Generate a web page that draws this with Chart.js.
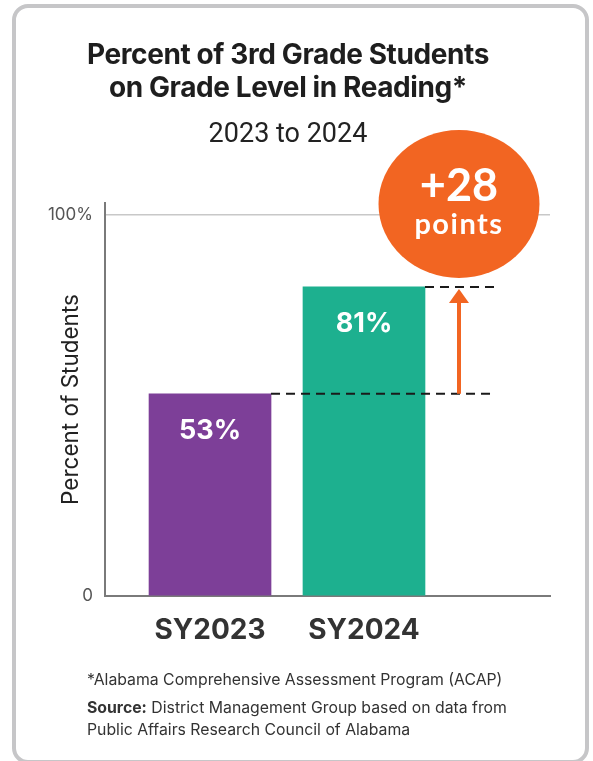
<!DOCTYPE html>
<html>
<head>
<meta charset="utf-8">
<title>Percent of 3rd Grade Students on Grade Level in Reading</title>
<script src="https://cdn.jsdelivr.net/npm/chart.js@4.4.0/dist/chart.umd.min.js"></script>
<style>
  html, body { margin: 0; padding: 0; background: #fff; }
  body { width: 593px; height: 761px; position: relative; overflow: hidden; font-family: Inter, sans-serif; color: #222; }
  .card { position: absolute; left: 12px; top: 4px; width: 577px; height: 760px; box-sizing: border-box;
          border: 4px solid #c6c6c8; border-radius: 16px; background: #fff; }
  #chart { position: absolute; left: 0; top: 0; }
  .title { position: absolute; left: 0; width: 576px; text-align: center; font-family: Inter, sans-serif;
           font-weight: 700; font-size: 28px; line-height: 33px; color: #1e1e1e; letter-spacing: -0.4px; }
  .subtitle { position: absolute; left: 0; width: 576px; text-align: center; font-family: Roboto, sans-serif;
              font-weight: 400; font-size: 27px; line-height: 33px; color: #222; }
  .note { position: absolute; left: 87px; font-family: Inter, sans-serif; font-size: 15.8px; line-height: 22px; color: #333; }
  .note b { font-weight: 700; }
</style>
</head>
<body>
<div class="card"></div>
<canvas id="chart" width="593" height="761"></canvas>
<div class="title" style="top:38px">Percent of 3rd Grade Students<br>on Grade Level in Reading*</div>
<div class="subtitle" style="top:117px">2023 to 2024</div>
<div class="note" style="top:669px">*Alabama Comprehensive Assessment Program (ACAP)</div>
<div class="note" style="top:697px"><b>Source:</b> District Management Group based on data from<br>Public Affairs Research Council of Alabama</div>

<script>
// chart data
const categories = ['SY2023', 'SY2024'];
const percentOnGrade = [53, 81];
const barColors = ['#7d3f98', '#1db08f'];
const yTicks = [0, 100];
const yTickLabels = ['0', '100%'];

const ORANGE = '#f26522';

/** labels inside bars, dashed guides, arrow and the "+N points" badge */
const annotations = {
  id: 'annotations',
  afterDatasetsDraw(chart) {
    const { ctx, chartArea, scales: { y } } = chart;
    const bars = chart.getDatasetMeta(0).data;
    ctx.save();

    // value labels
    ctx.fillStyle = '#fff';
    ctx.font = 'bold 27px Inter';
    ctx.textAlign = 'center';
    ctx.textBaseline = 'middle';
    bars.forEach((bar, i) => {
      ctx.fillText(percentOnGrade[i] + '%', bar.x, bar.y + 37);
    });

    const first = bars[0], last = bars[bars.length - 1];
    const arrowX = last.x + last.width / 2 + 34;
    const guideEnd = arrowX + 36;
    const yLow = y.getPixelForValue(percentOnGrade[0]);
    const yHigh = y.getPixelForValue(percentOnGrade[percentOnGrade.length - 1]);

    // dashed guides
    ctx.strokeStyle = '#1a1a1a';
    ctx.lineWidth = 2;
    ctx.setLineDash([9, 6]);
    ctx.beginPath();
    ctx.moveTo(first.x + first.width / 2, yLow);
    ctx.lineTo(guideEnd, yLow);
    ctx.moveTo(last.x + last.width / 2, yHigh);
    ctx.lineTo(guideEnd, yHigh);
    ctx.stroke();
    ctx.setLineDash([]);

    // arrow
    ctx.strokeStyle = ORANGE;
    ctx.fillStyle = ORANGE;
    ctx.lineWidth = 4;
    ctx.beginPath();
    ctx.moveTo(arrowX, yLow);
    ctx.lineTo(arrowX, yHigh + 14);
    ctx.stroke();
    ctx.beginPath();
    ctx.moveTo(arrowX, yHigh + 2);
    ctx.lineTo(arrowX - 10, yHigh + 16);
    ctx.lineTo(arrowX + 10, yHigh + 16);
    ctx.closePath();
    ctx.fill();

    // badge
    const cy = chartArea.top + 1;
    ctx.beginPath();
    ctx.ellipse(arrowX, cy, 80.5, 74, 0, 0, Math.PI * 2);
    ctx.fill();
    const diff = percentOnGrade[percentOnGrade.length - 1] - percentOnGrade[0];
    ctx.fillStyle = '#fff';
    ctx.font = 'bold 45px Lato';
    ctx.fillText('+' + diff, arrowX, cy - 18);
    ctx.font = 'bold 29px Lato';
    ctx.letterSpacing = '1.5px';
    ctx.fillText('points', arrowX, cy + 21);

    ctx.restore();
  }
};

function drawChart() {
  new Chart(document.getElementById('chart'), {
    type: 'bar',
    data: {
      datasets: [{
        data: categories.map((c, i) => ({ x: i + 1, y: percentOnGrade[i] })),
        backgroundColor: barColors,
        barThickness: 122,
        borderWidth: 0
      }]
    },
    options: {
      responsive: false,
      animation: false,
      events: [],
      layout: { padding: { left: 45, right: 43, top: 203, bottom: 116 } },
      plugins: { legend: { display: false }, tooltip: { enabled: false } },
      scales: {
        x: {
          type: 'linear',
          min: 0.318,
          max: 3.208,
          offset: false,
          grid: { display: false },
          border: { display: true, color: '#7a7a7a', width: 2 },
          afterBuildTicks: s => { s.ticks = categories.map((c, i) => ({ value: i + 1 })); },
          afterFit: s => { s.height = 49; },
          ticks: {
            maxRotation: 0,
            autoSkip: false,
            padding: 10,
            color: '#333',
            font: { family: 'Inter', size: 28, weight: 'bold' },
            callback: v => categories[v - 1] ?? ''
          }
        },
        y: {
          min: 0,
          max: 103,
          afterBuildTicks: s => { s.ticks = yTicks.map(v => ({ value: v })); },
          afterFit: s => { s.width = 60; },
          grid: {
            drawTicks: false,
            lineWidth: 1.5,
            color: c => (c.tick && c.tick.value === 100 ? '#c8c8c8' : 'rgba(0,0,0,0)')
          },
          border: { display: true, color: '#7a7a7a', width: 2 },
          ticks: {
            padding: 12,
            color: '#555',
            font: { family: 'Inter', size: 17 },
            callback: v => yTickLabels[yTicks.indexOf(v)]
          },
          title: {
            display: true,
            text: 'Percent of Students',
            color: '#222',
            padding: { top: 13, bottom: 0 },
            font: { family: 'Inter', size: 22.5 }
          }
        }
      }
    },
    plugins: [annotations]
  });
}

document.fonts.ready.then(drawChart);
</script>
</body>
</html>
